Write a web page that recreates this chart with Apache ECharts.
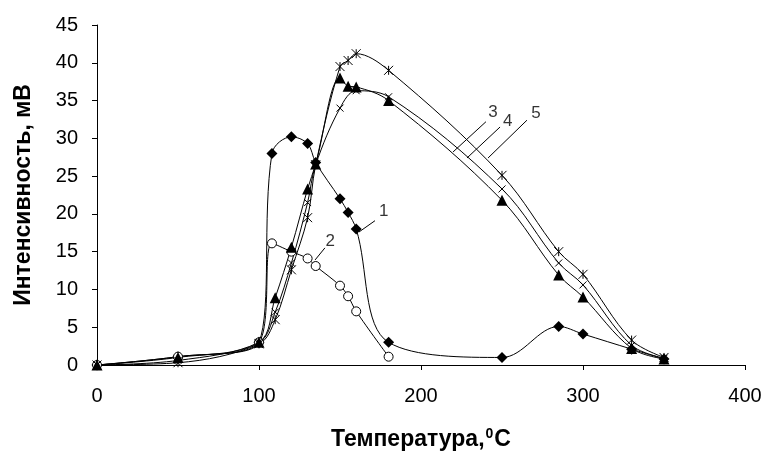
<!DOCTYPE html>
<html>
<head>
<meta charset="utf-8">
<script src="https://cdn.jsdelivr.net/npm/echarts@6/dist/echarts.min.js"></script>
<style>
html,body{margin:0;padding:0;background:#fff;}
#chart{width:770px;height:457px;}
</style>
</head>
<body>
<div id="chart"></div>
<script>
// кривые 1-5, [температура, интенсивность]
var curve1 = [[0,0],[50,1.1],[100,3],[108,28],[120,30.2],[130,29.3],[135,26.8],[150,22],[155,20.2],[160,18],[180,3],[250,1],[285,5.1],[300,4.1],[330,2.1],[350,0.8]];
var curve2 = [[0,0],[50,1.1],[100,3],[108,16.1],[120,15],[130,14.1],[135,13.1],[150,10.5],[155,9.1],[160,7.1],[180,1.1]];
var curve3 = [[0,0],[50,1],[100,3],[110,8.9],[120,15.6],[130,23.3],[135,26.6],[150,38],[155,36.9],[160,36.8],[180,35],[250,21.8],[285,11.9],[300,9],[330,2.2],[350,0.8]];
var curve4 = [[0,0],[50,0.6],[100,3],[110,7],[120,13.5],[130,21.5],[135,26.5],[150,34],[160,36.3],[180,35.5],[250,23.3],[285,13.5],[300,10.6],[330,2.6],[350,0.9]];
var curve5 = [[0,0],[50,0.3],[100,2.8],[110,6],[120,12.6],[130,19.5],[135,26.5],[150,39.5],[155,40.3],[160,41.2],[180,39],[250,25.1],[285,15],[300,12],[330,3.3],[350,1]];

// подписи кривых и выноски
var curveNames = ['1','2','3','4','5'];
var labelPos = [[177,20.3],[144,16.4],[244.5,33.5],[253.5,32.3],[271,33.3]];
var leaders = [
    [[161.7,17.6],[171.6,19.1]],
    [[134.6,13.9],[140.7,15.5]],
    [[219.8,28.2],[240.1,32.2]],
    [[228.4,27.4],[248.8,31.5]],
    [[241.4,27.4],[265.4,32.4]]
];

var xTicks = [0,100,200,300,400];
var yTicks = [0,5,10,15,20,25,30,35,40,45];

var FONT = '"Liberation Sans", Arial, sans-serif';
var starPath = 'path://M0,0L10,10M10,0L0,10M5,0L5,10';
var crossPath = 'path://M0,0L10,10M10,0L0,10';

function curveSeries(data, symbol, size, filled) {
    return {
        type: 'line',
        data: data,
        smooth: 0.35,
        symbol: symbol,
        symbolSize: size,
        showAllSymbol: true,
        lineStyle: {color: '#000', width: 1},
        itemStyle: filled ? {color: '#000'} : {color: filled === null ? 'none' : '#fff', borderColor: '#000', borderWidth: 1},
        emphasis: {disabled: true},
        z: 3
    };
}

var series = [
    curveSeries(curve1, 'diamond', 11, true),
    curveSeries(curve2, 'circle', 9, false),
    curveSeries(curve3, 'triangle', 11, true),
    curveSeries(curve4, crossPath, 7, null),
    curveSeries(curve5, starPath, 9, null)
];

for (var i = 0; i < leaders.length; i++) {
    series.push({
        type: 'line',
        data: leaders[i],
        symbol: 'none',
        lineStyle: {color: '#000', width: 1},
        silent: true,
        z: 4
    });
}

series.push({
    type: 'scatter',
    symbolSize: 0,
    silent: true,
    data: labelPos.map(function (p, k) { return [p[0], p[1], curveNames[k]]; }),
    label: {
        show: true,
        position: 'inside',
        formatter: function (p) { return p.value[2]; },
        color: '#000',
        fontFamily: FONT,
        fontSize: 17
    },
    z: 5
});

var chart = echarts.init(document.getElementById('chart'), null, {renderer: 'canvas'});
chart.setOption({
    animation: false,
    backgroundColor: '#fff',
    grid: {left: 97, right: 25, top: 25, bottom: 92, containLabel: false},
    xAxis: {
        type: 'value',
        min: xTicks[0],
        max: xTicks[xTicks.length - 1],
        interval: 100,
        name: 'Температура,{sup|0}C',
        nameLocation: 'middle',
        nameGap: 62,
        nameTextStyle: {
            fontFamily: FONT, fontSize: 23, fontWeight: 'bold', color: '#000',
            rich: {sup: {fontFamily: FONT, fontSize: 14, fontWeight: 'bold', color: '#000', verticalAlign: 'top', padding: [0, 1, 11, 1]}}
        },
        axisLine: {lineStyle: {color: '#000', width: 1}},
        axisTick: {show: true, inside: false, length: 5, lineStyle: {color: '#000'}},
        axisLabel: {margin: 21, fontFamily: FONT, fontSize: 20, color: '#000'},
        splitLine: {show: false}
    },
    yAxis: {
        type: 'value',
        min: yTicks[0],
        max: yTicks[yTicks.length - 1],
        interval: 5,
        name: 'Интенсивность, мВ',
        nameLocation: 'middle',
        nameGap: 62,
        nameTextStyle: {fontFamily: FONT, fontSize: 23, fontWeight: 'bold', color: '#000'},
        axisLine: {show: true, lineStyle: {color: '#000', width: 1}},
        axisTick: {show: true, inside: false, length: 5, lineStyle: {color: '#000'}},
        axisLabel: {margin: 19, fontFamily: FONT, fontSize: 20, color: '#000'},
        splitLine: {show: false}
    },
    series: series
});
</script>
</body>
</html>
